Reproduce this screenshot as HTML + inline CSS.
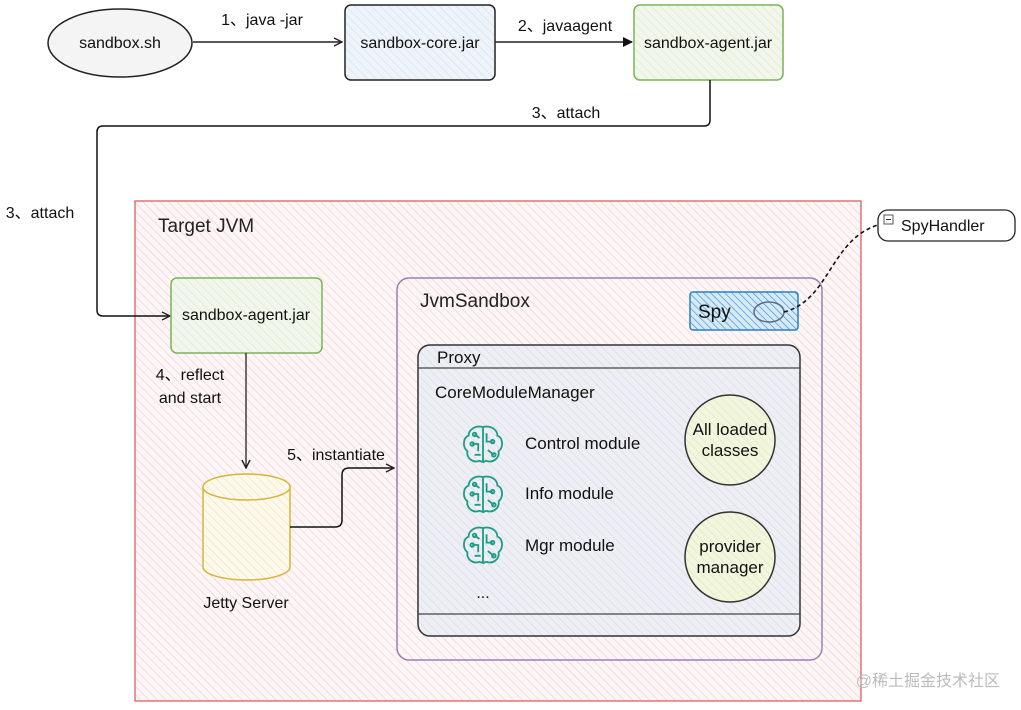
<!DOCTYPE html>
<html><head><meta charset="utf-8"><style>
html,body{margin:0;padding:0;background:#fff}
svg{display:block;font-family:"Liberation Sans","Noto Sans CJK SC",sans-serif}
</style></head><body>
<svg width="1021" height="710" viewBox="0 0 1021 710" xmlns="http://www.w3.org/2000/svg">
<defs>
<pattern id="hp" width="6" height="6" patternUnits="userSpaceOnUse" patternTransform="rotate(-45)"><rect width="6" height="6" fill="#fdf6f6"/><line x1="0" y1="0" x2="0" y2="6" stroke="#f2c9c9" stroke-width="1.2"/></pattern>
<pattern id="hb" width="6" height="6" patternUnits="userSpaceOnUse" patternTransform="rotate(-45)"><rect width="6" height="6" fill="#eef4fa"/><line x1="0" y1="0" x2="0" y2="6" stroke="#d3dfec" stroke-width="1.2"/></pattern>
<pattern id="hg" width="6" height="6" patternUnits="userSpaceOnUse" patternTransform="rotate(-45)"><rect width="6" height="6" fill="#f2f7ec"/><line x1="0" y1="0" x2="0" y2="6" stroke="#d9e6cb" stroke-width="1.2"/></pattern>
<pattern id="hs" width="5" height="5" patternUnits="userSpaceOnUse" patternTransform="rotate(-45)"><rect width="5" height="5" fill="#d6e9f7"/><line x1="0" y1="0" x2="0" y2="5" stroke="#3b8fd0" stroke-width="1.3"/></pattern>
<pattern id="hy" width="6" height="6" patternUnits="userSpaceOnUse" patternTransform="rotate(-45)"><rect width="6" height="6" fill="#f3f6df"/><line x1="0" y1="0" x2="0" y2="6" stroke="#dfe6b8" stroke-width="1.2"/></pattern>
<pattern id="hc" width="6" height="6" patternUnits="userSpaceOnUse" patternTransform="rotate(-45)"><rect width="6" height="6" fill="#fdf9ec"/><line x1="0" y1="0" x2="0" y2="6" stroke="#f0e2b0" stroke-width="1.2"/></pattern>
<pattern id="hpx" width="6" height="6" patternUnits="userSpaceOnUse" patternTransform="rotate(-45)"><rect width="6" height="6" fill="#eeeef5"/><line x1="0" y1="0" x2="0" y2="6" stroke="#d8d8e4" stroke-width="1.2"/></pattern>
<marker id="ar" markerWidth="10" markerHeight="10" refX="9" refY="5" orient="auto" markerUnits="userSpaceOnUse"><path d="M1,1 L9,5 L1,9" fill="none" stroke="#222" stroke-width="1.4"/></marker>
<marker id="af" markerWidth="10" markerHeight="10" refX="9" refY="5" orient="auto" markerUnits="userSpaceOnUse"><path d="M0,0 L10,5 L0,10 Z" fill="#111"/></marker>
<g id="brain0" fill="none" stroke="#1b9c85" stroke-width="1.5">
<path d="M0,-14 C-6,-16 -12,-12 -12,-7 C-17,-5 -17,3 -13,6 C-14,12 -8,16 -3,14 L0,15 Z"/>
<path d="M0,-14 C6,-16 12,-12 12,-7 C17,-5 17,3 13,6 C14,12 8,16 3,14 L0,15"/>
<path d="M-7,-8 L-3,-5 M-9,0 L-4,0 L-4,6 M3,-9 L3,-2 L8,-2 M4,5 L9,9 M-7,9 L-2,9"/>
<circle cx="-7" cy="-8" r="1.5"/><circle cx="8" cy="-2" r="1.5"/><circle cx="9" cy="9" r="1.5"/><circle cx="-9" cy="0" r="1.5"/>
</g>
<g id="brain"><use href="#brain0" transform="scale(1.2)"/></g>
</defs>

<ellipse cx="120" cy="43" rx="72" ry="34" fill="#f4f4f4" stroke="#222" stroke-width="1.5"/>
<text x="120" y="48" font-size="16" text-anchor="middle" fill="#111">sandbox.sh</text>
<line x1="193" y1="42" x2="342" y2="42" stroke="#222" stroke-width="1.5" marker-end="url(#ar)"/>
<text x="262" y="25" font-size="16" text-anchor="middle" fill="#111">1、java -jar</text>
<rect x="345" y="5" width="150" height="75" rx="6" fill="url(#hb)" stroke="#222" stroke-width="1.5"/>
<text x="420" y="48" font-size="16" text-anchor="middle" fill="#111">sandbox-core.jar</text>
<line x1="495" y1="42" x2="632" y2="42" stroke="#222" stroke-width="1.5" marker-end="url(#af)"/>
<text x="565" y="31" font-size="16" text-anchor="middle" fill="#111">2、javaagent</text>
<rect x="634" y="5" width="149" height="75" rx="6" fill="url(#hg)" stroke="#7ab356" stroke-width="1.5"/>
<text x="708" y="48" font-size="16" text-anchor="middle" fill="#111">sandbox-agent.jar</text>
<text x="566" y="118" font-size="16" text-anchor="middle" fill="#111">3、attach</text>

<rect x="135" y="201" width="726" height="500" fill="url(#hp)" stroke="#d9615f" stroke-width="1.3"/>
<text x="158" y="232" font-size="19" fill="#222">Target JVM</text>
<path d="M710,80 L710,120 Q710,126 704,126 L103,126 Q97,126 97,132 L97,310 Q97,316 103,316 L170,316" fill="none" stroke="#111" stroke-width="1.5" marker-end="url(#ar)"/>
<text x="40" y="218" font-size="16" text-anchor="middle" fill="#111">3、attach</text>

<rect x="171" y="278" width="151" height="75" rx="6" fill="url(#hg)" stroke="#7ab356" stroke-width="1.5"/>
<text x="246" y="320" font-size="16" text-anchor="middle" fill="#111">sandbox-agent.jar</text>
<line x1="246" y1="353" x2="246" y2="468" stroke="#222" stroke-width="1.3" marker-end="url(#ar)"/>
<text x="190" y="380" font-size="16" text-anchor="middle" fill="#111">4、reflect</text>
<text x="190" y="403" font-size="16" text-anchor="middle" fill="#111">and start</text>

<path d="M203,487 L203,567 A43.5,13 0 0 0 290,567 L290,487" fill="url(#hc)" stroke="#d7b33a" stroke-width="1.5"/>
<ellipse cx="246.5" cy="487" rx="43.5" ry="13" fill="url(#hc)" stroke="#d7b33a" stroke-width="1.5"/>
<text x="246" y="608" font-size="16" text-anchor="middle" fill="#111">Jetty Server</text>
<path d="M290,527 L335,527 Q342,527 342,520 L342,475 Q342,468 349,468 L394,468" fill="none" stroke="#111" stroke-width="1.5" marker-end="url(#ar)"/>
<text x="336" y="460" font-size="16" text-anchor="middle" fill="#111">5、instantiate</text>

<rect x="397" y="278" width="425" height="382" rx="12" fill="url(#hp)" stroke="#9b7fb2" stroke-width="1.5"/>
<text x="420" y="307" font-size="19" fill="#222">JvmSandbox</text>
<rect x="690" y="292" width="108" height="38" rx="3" fill="url(#hs)" stroke="#2a7fc4" stroke-width="1.5"/>
<text x="698" y="318" font-size="19" fill="#111">Spy</text>
<ellipse cx="769" cy="312" rx="15" ry="10" fill="none" stroke="#5a6a8a" stroke-width="1.5"/>
<path d="M784,312 C830,300 830,240 878,225" fill="none" stroke="#111" stroke-width="1.6" stroke-dasharray="4,3"/>
<rect x="878" y="210" width="137" height="31" rx="10" fill="#fff" stroke="#222" stroke-width="1.3"/>
<rect x="884" y="215" width="9" height="9" fill="#fff" stroke="#555"/><line x1="886" y1="219.5" x2="891" y2="219.5" stroke="#333"/>
<text x="901" y="231" font-size="16" fill="#111">SpyHandler</text>

<rect x="418" y="345" width="382" height="291" rx="12" fill="url(#hpx)" stroke="#333" stroke-width="1.5"/>
<line x1="418" y1="368" x2="800" y2="368" stroke="#444" stroke-width="1.3"/>
<line x1="418" y1="614" x2="800" y2="614" stroke="#444" stroke-width="1.3"/>
<text x="437" y="363" font-size="17" fill="#111">Proxy</text>
<text x="435" y="398" font-size="17" fill="#111">CoreModuleManager</text>
<use href="#brain" x="483" y="444"/>
<use href="#brain" x="483" y="494"/>
<use href="#brain" x="483" y="545"/>
<text x="525" y="449" font-size="17" fill="#111">Control module</text>
<text x="525" y="499" font-size="17" fill="#111">Info module</text>
<text x="525" y="551" font-size="17" fill="#111">Mgr module</text>
<text x="483" y="598" font-size="16" text-anchor="middle" fill="#111">...</text>
<circle cx="730" cy="440" r="45" fill="url(#hy)" stroke="#333" stroke-width="1.5"/>
<text x="730" y="435" font-size="17" text-anchor="middle" fill="#111">All loaded</text>
<text x="730" y="456" font-size="17" text-anchor="middle" fill="#111">classes</text>
<circle cx="730" cy="557" r="45" fill="url(#hy)" stroke="#333" stroke-width="1.5"/>
<text x="730" y="552" font-size="17" text-anchor="middle" fill="#111">provider</text>
<text x="730" y="573" font-size="17" text-anchor="middle" fill="#111">manager</text>

<text x="1000" y="686" font-size="16" text-anchor="end" fill="#bbb">@稀土掘金技术社区</text>
</svg>
</body></html>
